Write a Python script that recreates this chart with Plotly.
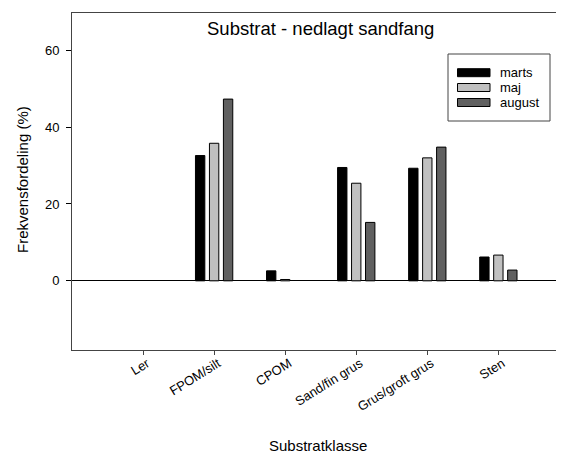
import plotly.graph_objects as go

categories = ["Ler", "FPOM/silt", "CPOM", "Sand/fin grus", "Grus/groft grus", "Sten"]
series_names = ["marts", "maj", "august"]
marts = [0, 32.6, 2.6, 29.5, 29.3, 6.2]
maj = [0, 35.8, 0.35, 25.4, 32.0, 6.7]
august = [0, 47.3, 0, 15.2, 34.8, 2.8]
series_values = [marts, maj, august]
y_tickvals = [0, 20, 40, 60]

colors = ["#000000", "#c0c0c0", "#606060"]
FONT = "Liberation Sans, Arial, sans-serif"

OFF = 8  # page body margin
SW, SH = 564, 455
W, H = SW - OFF, SH - OFF
ML, MR, MT, MB = 72 - OFF, 0, 13 - OFF, SH - 350
PW, PH = W - ML - MR, H - MT - MB


def px_x(x):
    return (x - OFF - ML) / PW


def px_y(y):
    return (SH - MB - y) / PH


fig = go.Figure()
for name, vals, col in zip(series_names, series_values, colors):
    fig.add_trace(go.Bar(
        x=categories, y=vals, name=name,
        marker=dict(color=col, line=dict(color="#000000",
                                         width=[0 if v == 0 else 1 for v in vals])),
        showlegend=False,
    ))

fig.update_layout(
    width=W, height=H,
    margin=dict(l=ML, r=MR, t=MT, b=MB),
    paper_bgcolor="white", plot_bgcolor="white",
    barmode="group", bargap=0.41, bargroupgap=0.33,
    font=dict(family=FONT, size=13, color="#000000"),
    xaxis=dict(
        type="category", range=[-1, -1 + PW / 71.06],
        showline=True, linecolor="#444444", linewidth=1, mirror=True,
        ticks="outside", ticklen=4, tickcolor="#444444",
        tickangle=-32, tickfont=dict(size=13),
        ticklabelstandoff=-4, ticklabelshift=4,
        showgrid=False, zeroline=False,
    ),
    yaxis=dict(
        range=[-18, 69.7], tickvals=y_tickvals,
        showline=True, linecolor="#444444", linewidth=1,
        ticks="outside", ticklen=5, tickcolor="#000000",
        tickfont=dict(size=13), ticklabelstandoff=4,
        showgrid=False, zeroline=True, zerolinecolor="#000000", zerolinewidth=1,
    ),
)

annotations = [
    dict(text="Substrat - nedlagt sandfang", x=px_x(320), y=px_y(29),
         font=dict(size=18.5)),
    dict(text="Frekvensfordeling (%)", x=px_x(22), y=px_y(180), textangle=-90,
         font=dict(size=15)),
    dict(text="Substratklasse", x=px_x(318), y=px_y(445), font=dict(size=15)),
]
for a in annotations:
    a.update(xref="paper", yref="paper", showarrow=False, xanchor="center", yanchor="middle")
    fig.add_annotation(**a)

# manual legend box
shapes = [dict(type="rect", xref="paper", yref="paper",
               x0=px_x(448), x1=px_x(550), y0=px_y(121), y1=px_y(54),
               line=dict(color="#444444", width=1), fillcolor="white", layer="above")]
row_y = [72.7, 87.5, 102.5]
for name, col, ry in zip(series_names, colors, row_y):
    shapes.append(dict(type="rect", xref="paper", yref="paper",
                       x0=px_x(457.5), x1=px_x(490), y0=px_y(ry + 4), y1=px_y(ry - 4),
                       line=dict(color="#000000", width=1), fillcolor=col, layer="above"))
    fig.add_annotation(text=name, xref="paper", yref="paper", x=px_x(498), y=px_y(ry),
                       xanchor="left", yanchor="middle", showarrow=False,
                       font=dict(size=13))
fig.update_layout(shapes=shapes)

fig.write_html("out.html")
